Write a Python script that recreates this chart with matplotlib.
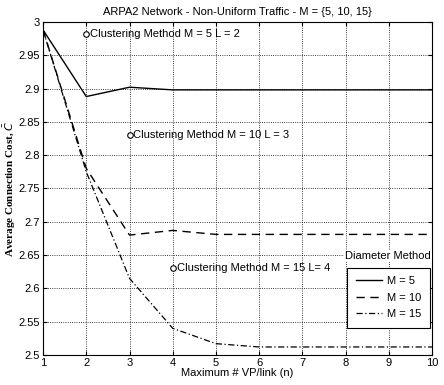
import matplotlib
matplotlib.use("Agg")
import matplotlib.pyplot as plt

n = [1, 2, 3, 4, 5, 6, 7, 8, 9, 10]
m5 = [2.988, 2.888, 2.902, 2.898, 2.898, 2.898, 2.898, 2.898, 2.898, 2.898]
m10 = [2.988, 2.780, 2.680, 2.687, 2.681, 2.681, 2.681, 2.681, 2.681, 2.681]
m15 = [2.988, 2.775, 2.615, 2.540, 2.517, 2.512, 2.512, 2.512, 2.512, 2.512]
series_labels = ["M = 5", "M = 10", "M = 15"]

clust_x = [2, 3, 4]
clust_y = [2.982, 2.830, 2.630]
clust_labels = ["Clustering Method M = 5 L = 2", "Clustering Method M = 10 L = 3",
                "Clustering Method M = 15 L= 4"]

plt.rcParams['font.family'] = ['Liberation Sans', 'DejaVu Sans']
fig = plt.figure(figsize=(4.44, 3.85), dpi=100)
ax = fig.add_axes([0.097, 0.078, 0.876, 0.865])

ax.plot(n, m5, '-', color='black', lw=1.0, label=series_labels[0])
ax.plot(n, m10, '--', color='black', lw=1.0, dashes=(6, 4), label=series_labels[1])
ax.plot(n, m15, '-.', color='black', lw=0.9, dashes=(5, 2, 1, 2), label=series_labels[2])

ax.plot(clust_x, clust_y, 'o', mfc='white', mec='black', ms=4, mew=0.8)
for x, y, t in zip(clust_x, clust_y, clust_labels):
    ax.text(x + 0.09, y, t, fontsize=8, va='center', ha='left')

ax.set_xlim(1, 10)
ax.set_ylim(2.5, 3.0)
ax.set_xticks(range(1, 11))
ax.set_yticks([2.5, 2.55, 2.6, 2.65, 2.7, 2.75, 2.8, 2.85, 2.9, 2.95, 3.0])
ax.set_yticklabels(["2.5", "2.55", "2.6", "2.65", "2.7", "2.75", "2.8", "2.85", "2.9", "2.95", "3"])
ax.tick_params(labelsize=8, direction='in', length=3, pad=2, top=True, right=True)
ax.grid(True, linestyle=':', color='black', lw=0.6)
for s in ax.spines.values():
    s.set_linewidth(0.8)

ax.set_title("ARPA2 Network - Non-Uniform Traffic - M = {5, 10, 15}", fontsize=8, pad=5)
ax.set_xlabel("Maximum # VP/link (n)", fontsize=8, labelpad=0)
ax.set_ylabel(r"Average Connection Cost, $\bar{C}$", fontsize=8, family='Liberation Serif',
              fontweight='bold')
ax.yaxis.set_label_coords(-0.064, 0.5)

leg = ax.legend(loc='upper right', bbox_to_anchor=(0.995, 0.262),
                fontsize=8, frameon=True, fancybox=False, edgecolor='black', framealpha=1,
                handlelength=2.4, borderpad=0.75, labelspacing=0.6, handletextpad=0.45,
                borderaxespad=0)
leg.get_frame().set_linewidth(0.8)
ax.text(0.997, 0.297, "Diameter Method", transform=ax.transAxes, fontsize=8, ha='right',
        va='center', bbox=dict(facecolor='white', edgecolor='none', pad=0.5))

fig.savefig("out.png", dpi=100)
